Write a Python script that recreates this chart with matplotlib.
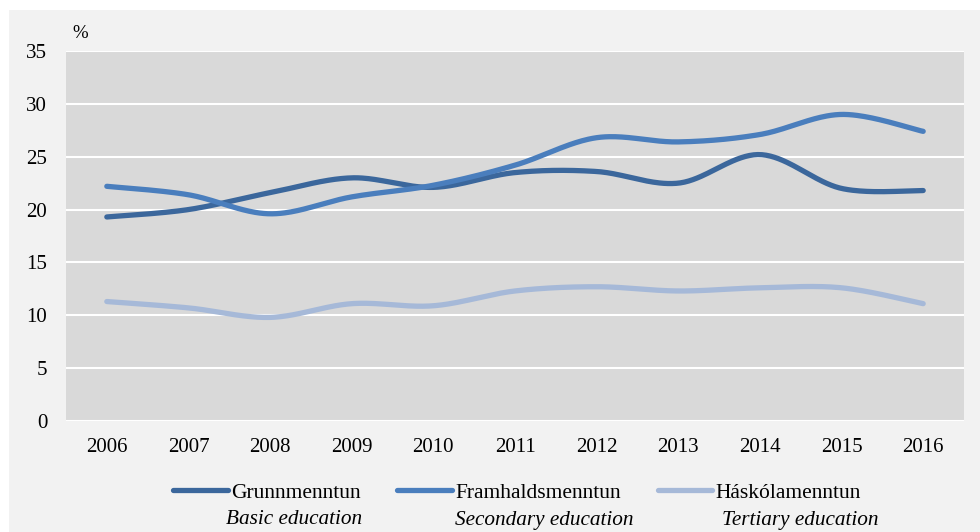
import numpy as np
import matplotlib
matplotlib.use("Agg")
import matplotlib.pyplot as plt
from matplotlib.patches import Rectangle

years = ["2006", "2007", "2008", "2009", "2010", "2011", "2012", "2013", "2014", "2015", "2016"]
basic = [19.3, 20.0, 21.6, 23.0, 22.1, 23.5, 23.6, 22.5, 25.2, 22.0, 21.8]
secondary = [22.2, 21.4, 19.6, 21.2, 22.3, 24.2, 26.8, 26.4, 27.1, 29.0, 27.4]
tertiary = [11.3, 10.7, 9.8, 11.1, 10.9, 12.3, 12.7, 12.3, 12.6, 12.6, 11.1]

names_is = ["Grunnmenntun", "Framhaldsmenntun", "Háskólamenntun"]
names_en = ["Basic education", "Secondary education", "Tertiary education"]
colors = ["#3b679c", "#4a7ebd", "#a6b9d8"]

plt.rcParams["font.family"] = ["Liberation Serif", "DejaVu Serif"]


# excel-like smoothed line through the points (cubic bezier, catmull-rom style)
def smooth(x, y, n=40):
	x = np.asarray(x, float)
	y = np.asarray(y, float)
	px = np.concatenate([[x[0]], x, [x[-1]]])
	py = np.concatenate([[y[0]], y, [y[-1]]])
	xs, ys = [], []
	t = np.linspace(0, 1, n)
	for i in range(1, len(px) - 2):
		p0 = np.array([px[i], py[i]])
		p3 = np.array([px[i + 1], py[i + 1]])
		c1 = p0 + (np.array([px[i + 1], py[i + 1]]) - np.array([px[i - 1], py[i - 1]])) / 6
		c2 = p3 - (np.array([px[i + 2], py[i + 2]]) - p0) / 6
		b = ((1 - t) ** 3)[:, None] * p0 + (3 * (1 - t) ** 2 * t)[:, None] * c1 \
			+ (3 * (1 - t) * t ** 2)[:, None] * c2 + (t ** 3)[:, None] * p3
		xs.append(b[:, 0])
		ys.append(b[:, 1])
	return np.concatenate(xs), np.concatenate(ys)


fig = plt.figure(figsize=(9.8, 5.32), dpi=100)
fig.patch.set_facecolor("white")
fig.patches.append(Rectangle((9 / 980, 0), 1, (532 - 10) / 532, transform=fig.transFigure,
	facecolor="#f2f2f2", edgecolor="none", zorder=-10))

ax = fig.add_axes([66 / 980, (532 - 421) / 532, (964 - 66) / 980, (421 - 51) / 532])
ax.set_facecolor("#d9d9d9")

x = np.arange(len(years))
for vals, name, c in zip([basic, secondary, tertiary], names_is, colors):
	sx, sy = smooth(x, vals)
	ax.plot(sx, sy, color=c, lw=3.8, solid_capstyle="round", label=name, zorder=3)

ax.set_xlim(-0.5, len(years) - 0.5)
ax.set_ylim(0, 35)
ax.set_yticks(range(0, 36, 5))
ax.set_xticks(x)
ax.set_xticklabels(years)
ax.grid(axis="y", color="white", lw=1.5)
ax.set_axisbelow(True)
for s in ax.spines.values():
	s.set_visible(False)
ax.tick_params(axis="both", length=0, labelsize=15)
ax.tick_params(axis="y", pad=13.5)
ax.tick_params(axis="x", pad=12)

fig.text(80 / 980, 1 - 34 / 532, "%", fontsize=13.5, ha="center", va="center")

leg = fig.legend(loc="center", bbox_to_anchor=(517 / 980, 1 - 493 / 532), ncol=3, frameon=False,
	fontsize=15.5, handlelength=2.55, handletextpad=0.15, columnspacing=1.7)
for line in leg.get_lines():
	line.set_linewidth(3.8)

for name, xc in zip(names_en, [294, 544, 800]):
	fig.text(xc / 980, 1 - 520 / 532, name, fontsize=15.3, style="italic", ha="center", va="center")

fig.savefig("out.png", dpi=100, facecolor=fig.get_facecolor())
